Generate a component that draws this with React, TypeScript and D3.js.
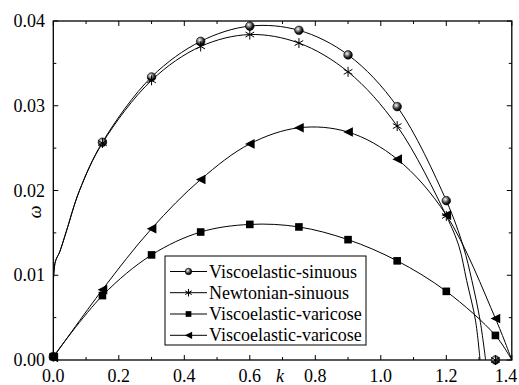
import React from "react";
import * as d3 from "d3";

// Sampled wavenumbers where the markers sit
const kMarks = [0, 0.15, 0.3, 0.45, 0.6, 0.75, 0.9, 1.05, 1.2, 1.35];

// Growth rate ω at each marker
const viscoSinuous = [0.0004, 0.0257, 0.0334, 0.0376, 0.0394, 0.0389, 0.036, 0.0299, 0.0188, 0.0];
const newtSinuous = [0.0004, 0.0256, 0.033, 0.037, 0.0384, 0.0374, 0.034, 0.0276, 0.017, 0.0];
const viscoVaricoseSq = [0.0004, 0.0076, 0.0124, 0.0151, 0.016, 0.0157, 0.0142, 0.0117, 0.0081, 0.0029];
const viscoVaricoseTri = [0.0003, 0.0083, 0.0155, 0.0213, 0.0255, 0.0274, 0.0269, 0.0237, 0.0171, 0.0049];

// Extra points on the sinuous curves near k = 0 (steep rise)
const sinuousHeadK = [0.005, 0.02, 0.04, 0.08];
const sinuousHeadW = [0.0114, 0.0128, 0.0152, 0.02];

// Sinuous curves after k = 1.2, down to the cut-off
const viscoTailK = [1.252, 1.278, 1.303, 1.32];
const viscoTailW = [0.01337, 0.0094, 0.0047, 0.0];
const newtTailK = [1.239, 1.262, 1.289, 1.303];
const newtTailW = [0.01337, 0.0094, 0.0047, 0.0];

// Varicose cut-off
const varicoseCutK = 1.4;

const xTicks = [0, 0.2, 0.4, 0.6, 0.8, 1.0, 1.2, 1.4];
const xMinor = [0.1, 0.3, 0.5, 0.7, 0.9, 1.1, 1.3];
const yTicks = [0, 0.01, 0.02, 0.03, 0.04];
const yMinor = [0.005, 0.015, 0.025, 0.035];

const legendLabels = [
  "Viscoelastic-sinuous",
  "Newtonian-sinuous",
  "Viscoelastic-varicose",
  "Viscoelastic-varicose",
];

type Pt = [number, number];

const W = 519;
const H = 385;
const L = 53.3;
const R = 511.8;
const T = 21;
const B = 360;

const FONT = "Liberation Serif, DejaVu Serif, Times New Roman, serif";

function zip(ks: number[], ws: number[]): Pt[] {
  return ks.map((k, i) => [k, ws[i]] as Pt);
}

function Marker({ kind, x, y, s = 1 }: { kind: number; x: number; y: number; s?: number }) {
  if (kind === 0) {
    return <circle cx={x} cy={y} r={4.3 * s} fill="url(#ballGrad)" stroke="#000" strokeWidth={0.6} />;
  }
  if (kind === 1) {
    const a = 5 * s;
    const c = Math.cos(Math.PI / 6) * a;
    const d = Math.sin(Math.PI / 6) * a;
    return (
      <g stroke="#000" strokeWidth={1}>
        <line x1={x} y1={y - a} x2={x} y2={y + a} />
        <line x1={x - c} y1={y - d} x2={x + c} y2={y + d} />
        <line x1={x - c} y1={y + d} x2={x + c} y2={y - d} />
      </g>
    );
  }
  if (kind === 2) {
    const h = 3.8 * s;
    return <rect x={x - h} y={y - h} width={2 * h} height={2 * h} fill="#000" />;
  }
  const w = 4.8 * s;
  const hh = 4.8 * s;
  return <path d={`M${x - w},${y} L${x + w},${y - hh} L${x + w},${y + hh} Z`} fill="#000" />;
}

export default function App() {
  const x = d3.scaleLinear().domain([0, 1.4]).range([L, R]);
  const y = d3.scaleLinear().domain([0, 0.04]).range([B, T]);

  const line = d3
    .line<Pt>()
    .x((d) => x(d[0]))
    .y((d) => y(d[1]))
    .curve(d3.curveCatmullRom.alpha(0.5));

  const marks = (ws: number[]) => zip(kMarks, ws);
  const head = zip(sinuousHeadK, sinuousHeadW);

  const viscoLine: Pt[] = [
    marks(viscoSinuous)[0],
    ...head,
    ...marks(viscoSinuous).slice(1, 9),
    ...zip(viscoTailK, viscoTailW),
  ];
  const newtLine: Pt[] = [
    marks(newtSinuous)[0],
    ...head,
    ...marks(newtSinuous).slice(1, 9),
    ...zip(newtTailK, newtTailW),
  ];
  const sqLine: Pt[] = [...marks(viscoVaricoseSq), [varicoseCutK, 0]];
  const triLine: Pt[] = [...marks(viscoVaricoseTri), [varicoseCutK, 0]];

  const series = [
    { line: viscoLine, pts: marks(viscoSinuous), kind: 0 },
    { line: newtLine, pts: marks(newtSinuous), kind: 1 },
    { line: sqLine, pts: marks(viscoVaricoseSq), kind: 2 },
    { line: triLine, pts: marks(viscoVaricoseTri), kind: 3 },
  ];

  const legX = 165;
  const legY = 256;
  const legW = 201;
  const legH = 89;
  const rowY = [271.5, 292.7, 314, 335.3];

  return (
    <svg
      width={W}
      height={H}
      style={{ position: "absolute", left: 0, top: 0, background: "#fff", fontFamily: FONT }}
    >
      <defs>
        <radialGradient id="ballGrad" cx="0.38" cy="0.35" r="0.65">
          <stop offset="0" stopColor="#ffffff" />
          <stop offset="0.3" stopColor="#9a9a9a" />
          <stop offset="0.7" stopColor="#222" />
          <stop offset="1" stopColor="#000" />
        </radialGradient>
        <clipPath id="plotClip">
          <rect x={L} y={T} width={R - L} height={B - T} />
        </clipPath>
      </defs>

      {/* curves */}
      <g clipPath="url(#plotClip)" fill="none" stroke="#000" strokeWidth={1}>
        {series.map((s, i) => (
          <path key={i} d={line(s.line) || ""} />
        ))}
      </g>

      {/* frame */}
      <rect x={L} y={T} width={R - L} height={B - T} fill="none" stroke="#000" strokeWidth={1.3} />

      {/* ticks, pointing inward on all four sides */}
      <g stroke="#000" strokeWidth={1}>
        {xTicks.map((t) => (
          <g key={"xt" + t}>
            <line x1={x(t)} x2={x(t)} y1={B} y2={B - 5} />
            <line x1={x(t)} x2={x(t)} y1={T} y2={T + 5} />
          </g>
        ))}
        {xMinor.map((t) => (
          <g key={"xm" + t}>
            <line x1={x(t)} x2={x(t)} y1={B} y2={B - 3} />
            <line x1={x(t)} x2={x(t)} y1={T} y2={T + 3} />
          </g>
        ))}
        {yTicks.map((t) => (
          <g key={"yt" + t}>
            <line x1={L} x2={L + 5} y1={y(t)} y2={y(t)} />
            <line x1={R} x2={R - 5} y1={y(t)} y2={y(t)} />
          </g>
        ))}
        {yMinor.map((t) => (
          <g key={"ym" + t}>
            <line x1={L} x2={L + 3} y1={y(t)} y2={y(t)} />
            <line x1={R} x2={R - 3} y1={y(t)} y2={y(t)} />
          </g>
        ))}
      </g>

      {/* tick labels */}
      <g fontSize={18} fill="#000" style={{ fontFamily: FONT }}>
        {xTicks.map((t) => (
          <text key={"xl" + t} x={Math.min(x(t), 506)} y={382} textAnchor="middle">
            {d3.format(".1f")(t)}
          </text>
        ))}
        {yTicks.map((t) => (
          <text key={"yl" + t} x={45} y={y(t) + 6} textAnchor="end">
            {d3.format(".2f")(t)}
          </text>
        ))}
      </g>

      {/* axis titles */}
      <text x={280} y={382} fontSize={18} fontStyle="italic" textAnchor="middle" style={{ fontFamily: FONT }}>
        k
      </text>
      <text
        transform="translate(41,212) rotate(-90)"
        fontSize={18}
        fontStyle="italic"
        textAnchor="middle"
        style={{ fontFamily: FONT }}
      >
        ω
      </text>

      {/* markers */}
      {series.map((s, i) => (
        <g key={"m" + i}>
          {s.pts.map((p, j) => (
            <Marker key={j} kind={s.kind} x={x(p[0])} y={y(p[1])} />
          ))}
        </g>
      ))}

      {/* legend */}
      <rect x={legX} y={legY} width={legW} height={legH} fill="#fff" stroke="#000" strokeWidth={1} />
      {legendLabels.map((lab, i) => (
        <g key={"lg" + i}>
          <line x1={170} x2={207} y1={rowY[i]} y2={rowY[i]} stroke="#000" strokeWidth={1} />
          <Marker kind={i} x={188.5} y={rowY[i]} s={0.75} />
          <text x={209} y={rowY[i] + 6} fontSize={18} style={{ fontFamily: FONT }}>
            {lab}
          </text>
        </g>
      ))}
    </svg>
  );
}
